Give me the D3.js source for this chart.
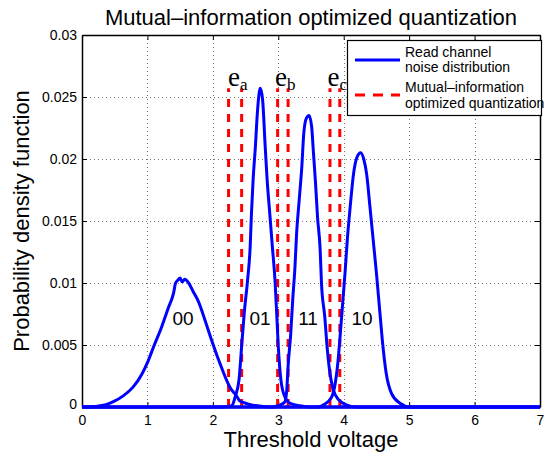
<!DOCTYPE html>
<html>
<head>
<meta charset="utf-8">
<script src="https://cdn.jsdelivr.net/npm/d3@7"></script>
<style>
  html, body { margin: 0; padding: 0; background: #fff; }
  svg { display: block; font-family: "Liberation Sans", Arial, sans-serif; }
</style>
</head>
<body>
<svg id="chart" width="547" height="455"></svg>
<script>
// Axis ticks
const xTicks = [0, 1, 2, 3, 4, 5, 6, 7];
const yTicks = [0, 0.005, 0.01, 0.015, 0.02, 0.025, 0.03];
const yTickLabels = ["0", "0.005", "0.01", "0.015", "0.02", "0.025", "0.03"];

// Read-channel noise distributions for each stored level: [voltage, density]
const noise00 = [[0,0],[0.15,0.00002],[0.28,0.0001],[0.4,0.00025],[0.48,0.00043],[0.63,0.0009],[0.78,0.0016],[0.91,0.0026],[1.01,0.0037],[1.09,0.0048],[1.22,0.0065],[1.32,0.0080],[1.40,0.0092],[1.43,0.0100],[1.46,0.0102],[1.50,0.0104],[1.53,0.0101],[1.57,0.0103],[1.63,0.0100],[1.70,0.0093],[1.78,0.0085],[1.88,0.0070],[1.98,0.0054],[2.06,0.0042],[2.11,0.0035],[2.16,0.0028],[2.26,0.0016],[2.36,0.0009],[2.41,0.0005],[2.5,0.0003],[2.61,0.00015],[2.8,0.00003],[3.0,0],[7,0]];
const noise01 = [[0,0],[2.1,0],[2.29,0.0001],[2.34,0.0008],[2.40,0.0022],[2.44,0.0049],[2.48,0.0076],[2.53,0.0102],[2.57,0.0129],[2.59,0.0156],[2.615,0.0183],[2.65,0.0210],[2.68,0.0237],[2.71,0.0254],[2.725,0.0257],[2.76,0.0248],[2.80,0.0210],[2.83,0.0183],[2.87,0.0156],[2.91,0.0129],[2.95,0.0102],[2.975,0.0076],[3.00,0.0049],[3.03,0.0027],[3.08,0.0011],[3.18,0.0003],[3.33,0.0001],[3.5,0],[7,0]];
const noise11 = [[0,0],[2.9,0],[3.0,0.0001],[3.10,0.0004],[3.13,0.0014],[3.15,0.0033],[3.19,0.0059],[3.22,0.0086],[3.255,0.0113],[3.28,0.0140],[3.32,0.0167],[3.36,0.0194],[3.39,0.0221],[3.43,0.0233],[3.47,0.0235],[3.51,0.0226],[3.535,0.0207],[3.57,0.0180],[3.60,0.0153],[3.64,0.0127],[3.66,0.0100],[3.71,0.0073],[3.75,0.0046],[3.79,0.0027],[3.84,0.0014],[3.92,0.0006],[4.05,0.00016],[4.2,0],[7,0]];
const noise10 = [[0,0],[3.6,0],[3.7,0.0002],[3.815,0.0008],[3.87,0.0019],[3.92,0.0041],[3.94,0.0054],[3.98,0.0081],[4.02,0.0108],[4.055,0.0135],[4.10,0.0162],[4.15,0.0188],[4.20,0.0201],[4.26,0.0205],[4.31,0.0199],[4.35,0.0188],[4.40,0.0162],[4.45,0.0135],[4.50,0.0108],[4.545,0.0081],[4.59,0.0054],[4.65,0.0027],[4.73,0.0011],[4.86,0.0003],[5.01,0],[7,0]];

// Quantization thresholds (pairs around each read reference e_a, e_b, e_c)
const thresholds = [2.24, 2.44, 2.99, 3.15, 3.79, 3.94];
const thresholdTop = 0.0257;
const refNames = ["a", "b", "c"];
const refLabelX = [2.20, 2.92, 3.72];
const refLabelY = 0.0259;

// Level labels
const levelNames = ["00", "01", "11", "10"];
const levelX = [1.545, 2.72, 3.455, 4.28];
const levelY = 0.0066;

const svg = d3.select("#chart");
const plot = { left: 82, right: 540, top: 35, bottom: 407 };

const x = d3.scaleLinear().domain([0, 7]).range([plot.left, plot.right]);
const y = d3.scaleLinear().domain([0, 0.03]).range([plot.bottom, plot.top]);

// Grid
const grid = svg.append("g").attr("stroke", "#777").attr("stroke-width", 1).attr("stroke-dasharray", "1,3");
grid.selectAll("line.vx").data(xTicks.slice(1, -1)).join("line")
  .attr("x1", d => Math.round(x(d)) + 0.5).attr("x2", d => Math.round(x(d)) + 0.5)
  .attr("y1", plot.top).attr("y2", plot.bottom);
grid.selectAll("line.hy").data(yTicks.slice(1, -1)).join("line")
  .attr("y1", d => Math.round(y(d)) + 0.5).attr("y2", d => Math.round(y(d)) + 0.5)
  .attr("x1", plot.left).attr("x2", plot.right);

// Axes (ticks pointing inward on all four sides)
const fmtY = d => yTickLabels[yTicks.indexOf(d)];
const axB = svg.append("g").attr("transform", `translate(0,${plot.bottom})`)
  .call(d3.axisBottom(x).tickValues(xTicks).tickFormat(d3.format("d")).tickSizeInner(-5).tickSizeOuter(0).tickPadding(8));
const axL = svg.append("g").attr("transform", `translate(${plot.left},0)`)
  .call(d3.axisLeft(y).tickValues(yTicks).tickFormat(fmtY).tickSizeInner(-5).tickSizeOuter(0).tickPadding(5));
const axT = svg.append("g").attr("transform", `translate(0,${plot.top})`)
  .call(d3.axisTop(x).tickValues(xTicks).tickFormat("").tickSizeInner(-5).tickSizeOuter(0));
const axR = svg.append("g").attr("transform", `translate(${plot.right},0)`)
  .call(d3.axisRight(y).tickValues(yTicks).tickFormat("").tickSizeInner(-5).tickSizeOuter(0));
[axB, axL, axT, axR].forEach(g => {
  g.attr("font-family", "'Liberation Sans', Arial, sans-serif");
  g.selectAll("path.domain").attr("stroke", "#000").attr("stroke-width", 1.5);
  g.selectAll(".tick line").attr("stroke", "#000");
  g.selectAll("text").attr("font-size", 14).attr("fill", "#000");
});
// lift the y-axis "0" slightly so it clears the x-axis "0"
axL.selectAll(".tick text").filter(d => d === 0).attr("dy", "0.12em");

// Threshold lines
svg.append("g").selectAll("line").data(thresholds).join("line")
  .attr("x1", d => x(d)).attr("x2", d => x(d))
  .attr("y1", y(0)).attr("y2", y(thresholdTop))
  .attr("stroke", "#ff0000").attr("stroke-width", 3).attr("stroke-dasharray", "8,7");

// Noise distributions
const line = d3.line().x(d => x(d[0])).y(d => y(d[1])).curve(d3.curveMonotoneX);
svg.append("g").selectAll("path").data([noise00, noise01, noise11, noise10]).join("path")
  .attr("d", line).attr("fill", "none").attr("stroke", "#0000ff")
  .attr("stroke-width", 3).attr("stroke-linejoin", "round");

// Reference labels e_a, e_b, e_c
const refs = svg.append("g").attr("font-family", "'Liberation Serif', 'Times New Roman', serif").attr("fill", "#000");
refNames.forEach((n, i) => {
  const t = refs.append("text").attr("x", x(refLabelX[i]) + 2).attr("y", y(refLabelY)).attr("font-size", 27);
  t.append("tspan").text("e");
  t.append("tspan").attr("font-size", 17).attr("dy", 4).text(n);
});

// Level labels
svg.append("g").selectAll("text").data(levelNames).join("text")
  .attr("x", (d, i) => x(levelX[i])).attr("y", y(levelY))
  .attr("text-anchor", "middle").attr("font-size", 19).attr("fill", "#000")
  .text(d => d);

// Legend
const lg = svg.append("g");
lg.append("rect").attr("x", 347.5).attr("y", 40.5).attr("width", 194).attr("height", 75)
  .attr("fill", "#fff").attr("stroke", "#000").attr("stroke-width", 1.2);
lg.append("line").attr("x1", 355).attr("x2", 400).attr("y1", 60).attr("y2", 60)
  .attr("stroke", "#0000ff").attr("stroke-width", 3);
lg.append("line").attr("x1", 355).attr("x2", 400).attr("y1", 95).attr("y2", 95)
  .attr("stroke", "#ff0000").attr("stroke-width", 3).attr("stroke-dasharray", "10,8");
const lgText = [["Read channel", 57], ["noise distribution", 72], ["Mutual\u2013information", 92], ["optimized quantization", 108]];
lg.selectAll("text").data(lgText).join("text")
  .attr("x", 405).attr("y", d => d[1]).attr("font-size", 14).attr("fill", "#000")
  .text(d => d[0]);

// Titles
svg.append("text").attr("x", 311).attr("y", 25).attr("text-anchor", "middle")
  .attr("font-size", 22).attr("fill", "#000").text("Mutual\u2013information optimized quantization");
svg.append("text").attr("x", 311).attr("y", 447).attr("text-anchor", "middle")
  .attr("font-size", 22).attr("fill", "#000").text("Threshold voltage");
svg.append("text").attr("transform", "translate(29,221) rotate(-90)").attr("text-anchor", "middle")
  .attr("font-size", 22).attr("fill", "#000").text("Probability density function");
</script>
</body>
</html>
